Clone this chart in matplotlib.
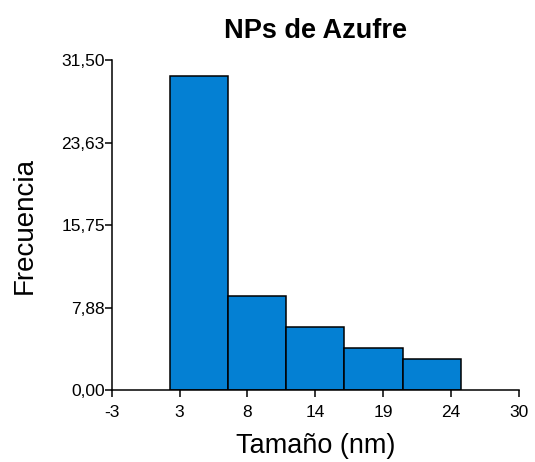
import matplotlib.pyplot as plt

# Histogram data
bin_edges = [1.70, 6.42, 11.14, 15.86, 20.58, 25.30]
counts = [30, 9, 6, 4, 3]

x_ticks = [-3, 2.5, 8, 13.5, 19, 24.5, 30]
x_tick_labels = ['-3', '3', '8', '14', '19', '24', '30']
y_ticks = [0, 7.875, 15.75, 23.625, 31.5]
y_tick_labels = ['0,00', '7,88', '15,75', '23,63', '31,50']

plt.rcParams['font.family'] = ['Liberation Sans', 'DejaVu Sans']

fig = plt.figure(figsize=(5.35, 4.62), dpi=100)
ax = fig.add_axes([0.2088, 0.1558, 0.7613, 0.714])

lefts = bin_edges[:-1]
widths = [b - a for a, b in zip(bin_edges[:-1], bin_edges[1:])]
ax.bar(lefts, counts, width=widths, align='edge', color='#0480D3',
       edgecolor='black', linewidth=1.1)

ax.set_xlim(-3, 30)
ax.set_ylim(0, 31.5)
ax.set_xticks(x_ticks)
ax.set_xticklabels(x_tick_labels)
ax.set_yticks(y_ticks)
ax.set_yticklabels(y_tick_labels)
ax.tick_params(direction='out', length=5, width=1.1, labelsize=12.5)
ax.tick_params(axis='x', pad=6)
ax.tick_params(axis='y', pad=0)

for side in ['top', 'right']:
    ax.spines[side].set_visible(False)
for side in ['left', 'bottom']:
    ax.spines[side].set_linewidth(1.1)

ax.set_title('NPs de Azufre', fontsize=19.5, fontweight='bold', pad=16)
ax.set_xlabel('Tamaño (nm)', fontsize=19.5, labelpad=9)
ax.set_ylabel('Frecuencia', fontsize=20, labelpad=17)

plt.savefig('out.png', dpi=100)
plt.close()
